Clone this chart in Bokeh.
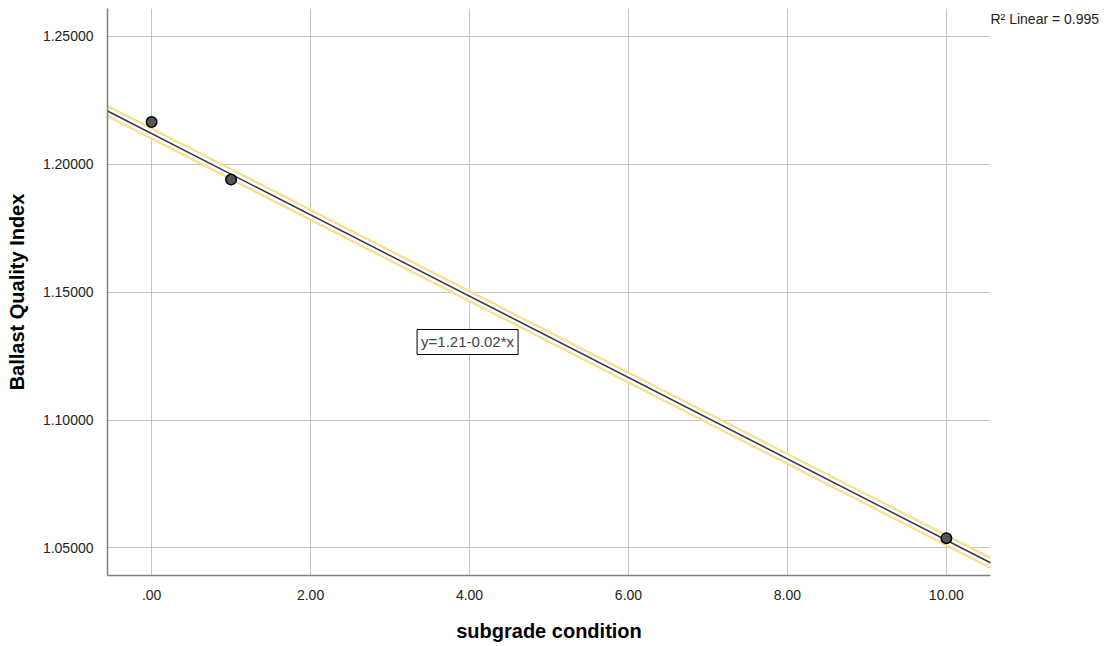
from bokeh.plotting import figure
from bokeh.models import FixedTicker, PrintfTickFormatter, Label
from bokeh.embed import file_html
from bokeh.resources import INLINE

# data
subgrade = [0, 1, 10]
bqi = [1.2165, 1.1940, 1.0538]

# fit line as drawn in the picture (intercept, slope)
fit_intercept = 1.2120
fit_slope = -0.01590

x_ticks = [0, 2, 4, 6, 8, 10]
x_tick_labels = [".00", "2.00", "4.00", "6.00", "8.00", "10.00"]
y_ticks = [1.05, 1.10, 1.15, 1.20, 1.25]

x_lo, x_hi = -0.555, 10.555
y_lo, y_hi = 1.0392, 1.2609

FONT = "Liberation Sans"

p = figure(width=1110, height=644, x_range=(x_lo, x_hi), y_range=(y_lo, y_hi),
           output_backend="svg", toolbar_location=None,
           min_border_left=107, min_border_right=120, min_border_top=8,
           min_border_bottom=68)
p.outline_line_color = None
p.background_fill_color = "white"
p.border_fill_color = "white"

# axes
p.xaxis.ticker = FixedTicker(ticks=x_ticks)
p.xaxis.major_label_overrides = {t: l for t, l in zip(x_ticks, x_tick_labels)}
p.yaxis.ticker = FixedTicker(ticks=y_ticks)
p.yaxis.formatter = PrintfTickFormatter(format="%.5f")
for ax in (p.xaxis, p.yaxis):
    ax.axis_line_color = "#808080"
    ax.axis_line_width = 1.5
    ax.major_tick_line_color = None
    ax.minor_tick_line_color = None
    ax.major_label_text_font = FONT
    ax.major_label_text_font_size = "14px"
    ax.major_label_text_color = "#222222"
    ax.major_label_standoff = 8
    ax.axis_label_text_font = FONT
    ax.axis_label_text_font_style = "bold"
    ax.axis_label_text_font_size = "20px"
    ax.axis_label_text_color = "black"
p.xaxis.axis_label = "subgrade condition"
p.yaxis.axis_label = "Ballast Quality Index"
p.xaxis.axis_label_standoff = 17
p.yaxis.axis_label_standoff = 12

p.grid.grid_line_color = "#c4c4c4"
p.grid.grid_line_width = 1
p.xgrid.ticker = FixedTicker(ticks=x_ticks)
p.ygrid.ticker = FixedTicker(ticks=y_ticks)

# linear fit
fx = [x_lo, x_hi]
fy = [fit_intercept + fit_slope * x for x in fx]
p.line(fx, fy, line_color="#f7df8c", line_width=11, line_cap="round")
p.line(fx, fy, line_color="white", line_width=6.5, line_cap="round")
p.line(fx, fy, line_color="#34344e", line_width=1.5, line_cap="round")

# points
p.scatter(subgrade, bqi, size=10.5, fill_color="#555555", line_color="black",
          line_width=1.5)

# equation label
p.add_layout(Label(x=3.34, y=1.1305, text="y=1.21-0.02*x", text_font=FONT,
                   text_font_size="15px", text_baseline="middle",
                   border_line_color="black", border_line_width=1,
                   background_fill_color="white", padding=4))

# R^2 label, placed in the right side panel
p.add_layout(Label(x=0, y=557, x_units="screen", y_units="screen",
                   text="R\u00b2 Linear = 0.995",
                   text_font=FONT, text_font_size="14px",
                   text_baseline="middle", text_color="#222222"), "right")

open("out.html", "w").write(file_html(p, INLINE))
